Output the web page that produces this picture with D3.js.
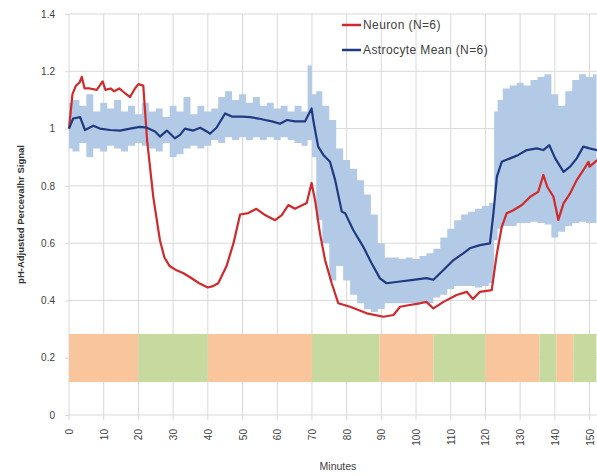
<!DOCTYPE html>
<html>
<head>
<meta charset="utf-8">
<script src="https://cdn.jsdelivr.net/npm/d3@7"></script>
<style>
  body { margin: 0; background: #fff; }
  text { font-family: "Liberation Sans", Arial, sans-serif; }
</style>
</head>
<body>
<script>
const width = 597;
const height = 476;

// neuron trace (minutes, signal)
const neuronMinutes = [0, 1, 2, 3, 3.7, 4.5, 6, 8, 9.7, 10.5, 12, 13, 14.5, 16, 17.6, 19, 20, 21.4, 22.5, 24.3, 26.2, 27.5, 29, 31, 33, 35, 37.5, 40, 41.5, 43, 45.4, 47.4, 49.3, 51.7, 54, 56.5, 59.4, 61.3, 63.2, 65.1, 68.5, 69.9, 70.9, 72.3, 73.8, 75.7, 77.6, 81, 85.8, 90.6, 93.5, 95.4, 98.2, 101.1, 103, 105, 107.9, 111.7, 114.6, 116.4, 118.4, 121.8, 123.3, 124.7, 126.1, 128, 130.5, 132.9, 135.2, 136.7, 137.8, 139.6, 141, 142.5, 144.4, 146.3, 148.2, 149.7, 150, 152.2];
const neuronValues = [1.0, 1.12, 1.15, 1.16, 1.18, 1.14, 1.14, 1.135, 1.165, 1.135, 1.14, 1.13, 1.14, 1.125, 1.11, 1.14, 1.155, 1.15, 0.96, 0.76, 0.61, 0.55, 0.52, 0.505, 0.495, 0.48, 0.46, 0.445, 0.45, 0.46, 0.52, 0.6, 0.7, 0.705, 0.72, 0.698, 0.68, 0.698, 0.733, 0.72, 0.74, 0.81, 0.75, 0.635, 0.54, 0.46, 0.39, 0.378, 0.355, 0.343, 0.349, 0.378, 0.384, 0.39, 0.395, 0.372, 0.395, 0.419, 0.43, 0.405, 0.43, 0.436, 0.564, 0.657, 0.704, 0.715, 0.733, 0.762, 0.779, 0.838, 0.797, 0.762, 0.681, 0.739, 0.774, 0.82, 0.855, 0.884, 0.867, 0.89];

// astrocyte mean trace
const astroMinutes = [0, 1.2, 3.2, 4.6, 7, 8.9, 11.8, 14.7, 17.6, 20.4, 22.4, 24.8, 26.2, 28.2, 30.5, 32, 33.4, 35.8, 37.8, 39.7, 40.6, 42.5, 45, 46.9, 49.8, 52.2, 54.6, 56.5, 58.5, 60.8, 62.8, 65.1, 68, 69.9, 70.4, 71.8, 73.3, 75.2, 76.7, 78.6, 79.6, 81.9, 84.8, 87.2, 89.6, 91.5, 95.4, 99.2, 103, 105, 107.9, 110.8, 113.6, 115.5, 118.4, 121.3, 122.3, 123.3, 124.7, 127.1, 129.5, 131.9, 134.8, 136.7, 138.4, 140.1, 142.5, 144.4, 146.3, 148.2, 150, 152.2];
const astroValues = [1.0, 1.035, 1.04, 0.995, 1.01, 1.0, 0.995, 0.993, 1.0, 1.006, 1.003, 0.99, 0.972, 0.993, 0.966, 0.978, 1.0, 0.993, 1.003, 0.99, 0.982, 1.003, 1.053, 1.042, 1.042, 1.04, 1.035, 1.03, 1.025, 1.017, 1.03, 1.025, 1.025, 1.07, 1.028, 0.937, 0.908, 0.884, 0.82, 0.71, 0.704, 0.646, 0.587, 0.53, 0.477, 0.46, 0.466, 0.472, 0.478, 0.472, 0.506, 0.541, 0.564, 0.582, 0.593, 0.599, 0.704, 0.832, 0.884, 0.896, 0.908, 0.925, 0.931, 0.925, 0.942, 0.896, 0.849, 0.867, 0.896, 0.937, 0.931, 0.925];

// astrocyte error band
const bandMinutes = [0, 2, 4, 6, 8, 10, 12, 14, 16, 18, 20, 22, 24, 26, 28, 30, 32, 34, 36, 38, 40, 42, 44, 46, 48, 50, 52, 54, 56, 58, 60, 62, 64, 66, 68, 69.5, 70.5, 72, 74, 76, 78, 80, 82, 84, 86, 88, 90, 92, 94, 96, 98, 100, 102, 104, 106, 108, 110, 112, 114, 116, 118, 120, 122, 123, 124, 126, 128, 130, 132, 134, 136, 138, 140, 142, 144, 146, 148, 150, 152];
const bandUpper = [1.09, 1.10, 1.08, 1.12, 1.06, 1.09, 1.07, 1.10, 1.06, 1.08, 1.05, 1.09, 1.06, 1.07, 1.04, 1.08, 1.06, 1.11, 1.05, 1.08, 1.06, 1.07, 1.11, 1.13, 1.10, 1.12, 1.09, 1.11, 1.08, 1.09, 1.07, 1.08, 1.06, 1.08, 1.06, 1.22, 1.12, 1.13, 1.08, 1.03, 0.93, 0.89, 0.86, 0.82, 0.77, 0.70, 0.60, 0.55, 0.55, 0.545, 0.55, 0.545, 0.555, 0.565, 0.58, 0.62, 0.65, 0.68, 0.70, 0.71, 0.72, 0.73, 0.74, 1.06, 1.10, 1.14, 1.15, 1.16, 1.15, 1.17, 1.18, 1.19, 1.12, 1.08, 1.13, 1.17, 1.19, 1.18, 1.19];
const bandLower = [0.93, 0.92, 0.95, 0.90, 0.93, 0.92, 0.94, 0.93, 0.92, 0.94, 0.95, 0.94, 0.93, 0.92, 0.95, 0.90, 0.91, 0.93, 0.94, 0.93, 0.94, 0.96, 0.95, 0.97, 0.96, 0.97, 0.96, 0.97, 0.96, 0.97, 0.96, 0.97, 0.96, 0.95, 0.94, 0.96, 0.90, 0.68, 0.60, 0.47, 0.52, 0.47, 0.42, 0.39, 0.37, 0.36, 0.37, 0.39, 0.39, 0.39, 0.39, 0.39, 0.39, 0.39, 0.41, 0.42, 0.44, 0.45, 0.45, 0.45, 0.445, 0.45, 0.46, 0.61, 0.65, 0.66, 0.66, 0.67, 0.67, 0.675, 0.67, 0.665, 0.62, 0.64, 0.66, 0.67, 0.675, 0.67, 0.67];

// condition bars along the bottom
const condEdges = [0, 20, 40, 70, 89.5, 105, 120, 135.6, 140.4, 145.3, 152];
const condTypes = ['a', 'b', 'a', 'b', 'a', 'b', 'a', 'b', 'a', 'b'];

const yTicks = [0, 0.2, 0.4, 0.6, 0.8, 1, 1.2, 1.4];
const xTicks = [0, 10, 20, 30, 40, 50, 60, 70, 80, 90, 100, 110, 120, 130, 140, 150];

const svg = d3.select('body')
    .append('svg')
    .attr('width', width)
    .attr('height', height);

const x = d3.scaleLinear().domain([0, 152]).range([69, 596.5]);
const y = d3.scaleLinear().domain([0, 1.4]).range([415, 14]);
const condColor = d3.scaleOrdinal().domain(['a', 'b']).range(['#f9c59c', '#c6da9f']);

// grid
svg.append('g').selectAll('line')
    .data(yTicks)
    .enter().append('line')
    .attr('x1', x(0)).attr('x2', width)
    .attr('y1', d => y(d)).attr('y2', d => y(d))
    .attr('stroke', '#d9d9d9');
svg.append('g').selectAll('line')
    .data(xTicks)
    .enter().append('line')
    .attr('x1', d => x(d)).attr('x2', d => x(d))
    .attr('y1', y(1.4)).attr('y2', y(0) + 5)
    .attr('stroke', '#d9d9d9');

// axes labels
const yAxis = svg.append('g')
    .attr('transform', `translate(${x(0)},0)`)
    .call(d3.axisLeft(y).tickValues(yTicks).tickFormat(d3.format('~g')).tickSize(4).tickPadding(10));
yAxis.select('.domain').remove();
yAxis.selectAll('line').attr('stroke', '#d9d9d9');
yAxis.selectAll('text').attr('font-size', 10).attr('fill', '#404040');

const xAxis = svg.append('g')
    .attr('transform', `translate(0,${y(0)})`)
    .call(d3.axisBottom(x).tickValues(xTicks).tickSize(0).tickPadding(0));
xAxis.select('.domain').remove();
xAxis.selectAll('text')
    .attr('font-size', 10)
    .attr('fill', '#404040')
    .attr('text-anchor', 'end')
    .attr('dy', '0.35em')
    .attr('transform', 'translate(0,14) rotate(-90)')
    .attr('x', 0).attr('y', 0);

// condition bars
svg.append('g').selectAll('rect')
    .data(condTypes)
    .enter().append('rect')
    .attr('x', (d, i) => x(condEdges[i]))
    .attr('width', (d, i) => x(condEdges[i + 1]) - x(condEdges[i]))
    .attr('y', y(0.283))
    .attr('height', y(0.115) - y(0.283))
    .attr('fill', d => condColor(d));

// error band
const band = bandMinutes.map((m, i) => ({m, lo: bandLower[i], hi: bandUpper[i]}));
svg.append('path')
    .datum(band)
    .attr('fill', '#b3cae6')
    .attr('d', d3.area().curve(d3.curveStep)
        .x(d => x(d.m)).y0(d => y(d.lo)).y1(d => y(d.hi)));

const line = d3.line().x(d => x(d[0])).y(d => y(d[1]));
svg.append('path')
    .datum(neuronMinutes.map((m, i) => [m, neuronValues[i]]))
    .attr('fill', 'none')
    .attr('stroke', '#cf2a2c')
    .attr('stroke-width', 2.2)
    .attr('stroke-linejoin', 'round')
    .attr('d', line);
svg.append('path')
    .datum(astroMinutes.map((m, i) => [m, astroValues[i]]))
    .attr('fill', 'none')
    .attr('stroke', '#1f3a80')
    .attr('stroke-width', 2.2)
    .attr('stroke-linejoin', 'round')
    .attr('d', line);

// legend
const legendItems = [['Neuron (N=6)', '#cf2a2c'], ['Astrocyte Mean (N=6)', '#1f3a80']];
const legend = svg.append('g').selectAll('g')
    .data(legendItems)
    .enter().append('g')
    .attr('transform', (d, i) => `translate(342,${25 + i * 25})`);
legend.append('line')
    .attr('x1', 0).attr('x2', 19)
    .attr('stroke', d => d[1])
    .attr('stroke-width', 2.5);
legend.append('text')
    .attr('x', 21).attr('dy', '0.35em')
    .attr('font-size', 12)
    .attr('letter-spacing', 0.4)
    .attr('fill', '#404040')
    .text(d => d[0]);

// titles
svg.append('text')
    .attr('transform', `translate(24,${y(0.7)}) rotate(-90)`)
    .attr('text-anchor', 'middle')
    .attr('font-size', 9.5)
    .attr('font-weight', 'bold')
    .attr('fill', '#333')
    .text('pH-Adjusted Percevalhr Signal');
svg.append('text')
    .attr('x', 338).attr('y', 470)
    .attr('text-anchor', 'middle')
    .attr('font-size', 10.5)
    .attr('fill', '#404040')
    .text('Minutes');
</script>
</body>
</html>
